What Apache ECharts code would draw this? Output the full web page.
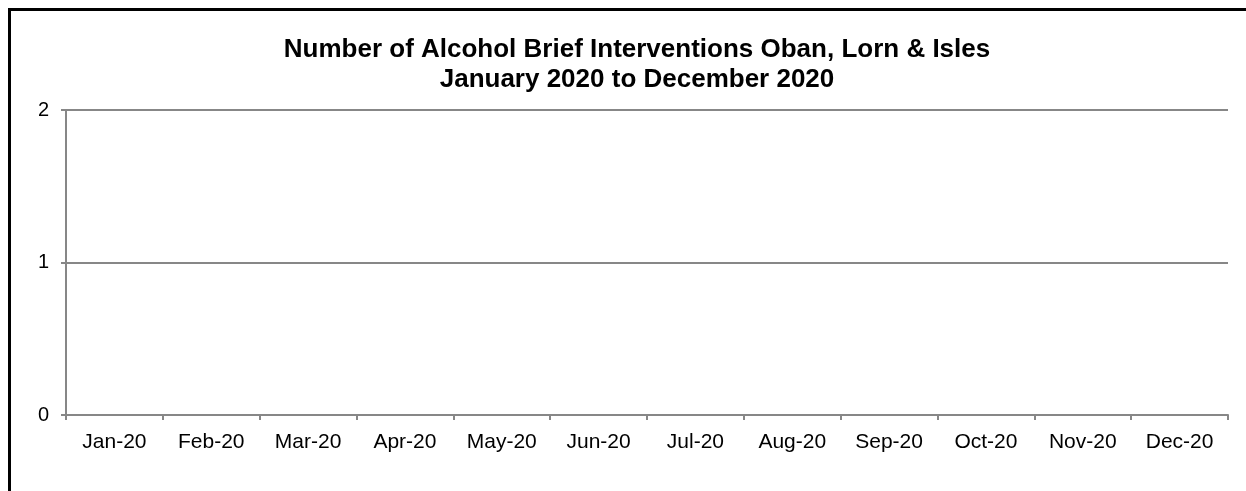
<!DOCTYPE html>
<html><head><meta charset="utf-8">
<script src="https://cdn.jsdelivr.net/npm/echarts@6/dist/echarts.min.js"></script>
<style>html,body{margin:0;padding:0;background:#fff;}#c{width:1246px;height:491px;}</style>
</head><body><div id="c"></div>
<script>
const categories = ['Jan-20','Feb-20','Mar-20','Apr-20','May-20','Jun-20','Jul-20','Aug-20','Sep-20','Oct-20','Nov-20','Dec-20'];
const interventions = [0,0,0,0,0,0,0,0,0,0,0,0];
const yTicks = [0,1,2];
const titleLines = ['Number of Alcohol Brief Interventions Oban, Lorn & Isles','January 2020 to December 2020'];
const chart = echarts.init(document.getElementById('c'));
chart.setOption({
  animation:false,
  graphic:[{type:'rect',shape:{x:9.5,y:9.5,width:1400,height:700},style:{fill:'none',stroke:'#000',lineWidth:3},silent:true}],
  title:{text:titleLines.join('\n'),left:632,textAlign:'center',top:30,
    textStyle:{fontFamily:'Liberation Sans',fontWeight:'bold',fontSize:26,lineHeight:30,color:'#000'}},
  grid:{left:66,right:18,top:110,bottom:76,containLabel:false},
  xAxis:{type:'category',data:categories,boundaryGap:true,
    axisLine:{lineStyle:{color:'#878787',width:2}},
    axisTick:{show:true,length:5,alignWithLabel:false,lineStyle:{color:'#878787',width:2}},
    axisLabel:{color:'#000',fontFamily:'Liberation Sans',fontSize:21,margin:17,interval:0}},
  yAxis:{type:'value',min:yTicks[0],max:yTicks[yTicks.length-1],interval:1,
    axisLine:{show:true,lineStyle:{color:'#878787',width:2}},
    axisTick:{show:true,length:5,lineStyle:{color:'#878787',width:2}},
    splitLine:{lineStyle:{color:'#878787',width:2}},
    axisLabel:{color:'#000',fontFamily:'Liberation Sans',fontSize:20,margin:17}},
  series:[{type:'bar',data:interventions,itemStyle:{color:'#4f81bd'}}]
});
</script></body></html>
